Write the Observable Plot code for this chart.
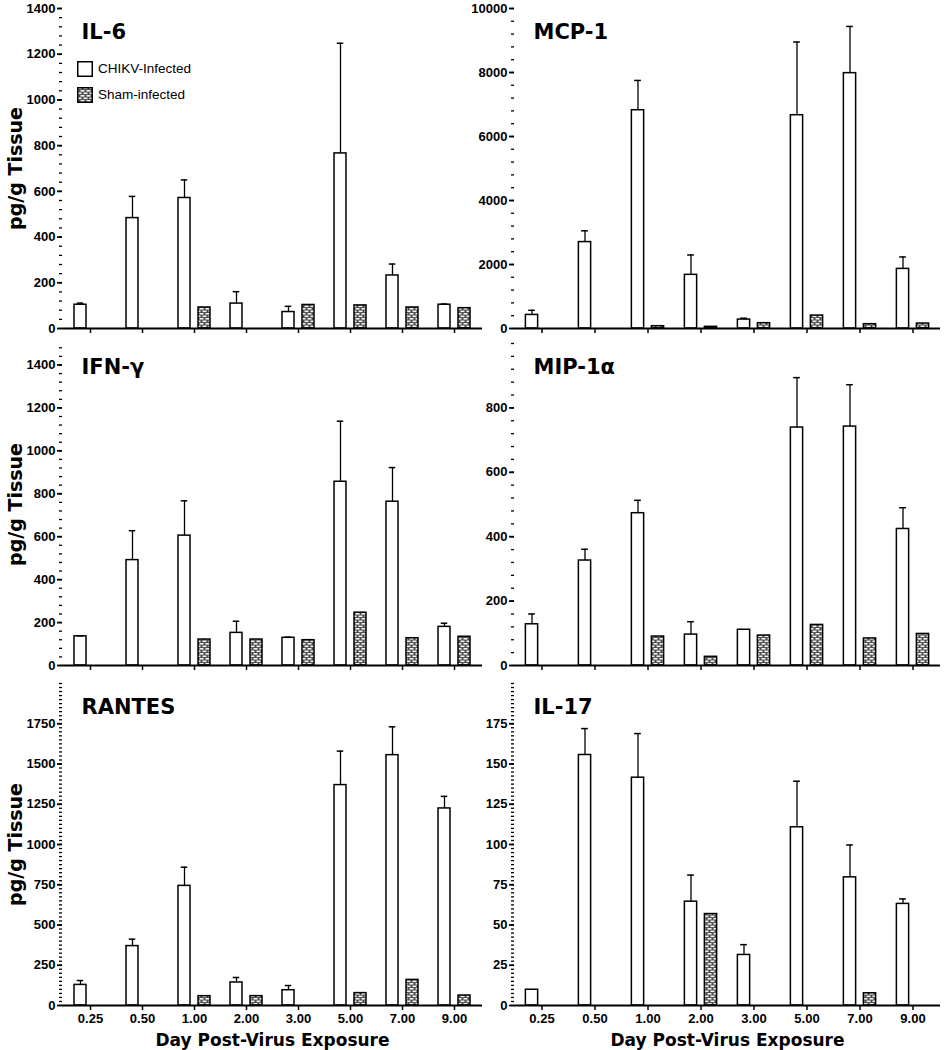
<!DOCTYPE html>
<html>
<head>
<meta charset="utf-8">
<script src="https://cdn.jsdelivr.net/npm/d3@7"></script>
<script src="https://cdn.jsdelivr.net/npm/@observablehq/plot@0.6"></script>
<style>
  body { margin: 0; background: #fff; }
  #wrap { position: relative; width: 944px; height: 1050px; overflow: hidden; background: #fff; }
  .panel { position: absolute; }
  .panel svg { display: block; max-width: none; }
  #legend { position: absolute; left: 77px; top: 61px; font: 13.5px "Liberation Sans", Arial, sans-serif; color: #000; }
  #legend .row { display: flex; align-items: center; height: 15px; margin-bottom: 11px; }
  #legend svg { margin-right: 5px; }
</style>
</head>
<body>
<svg style="position:absolute;width:0;height:0">
  <defs>
    <pattern id="brick" width="6" height="5" patternUnits="userSpaceOnUse">
      <rect width="6" height="5" fill="#4a4a4a"/>
      <rect x="0.5" y="0.5" width="4" height="1.6" fill="#f2f2f2"/>
      <rect x="3.5" y="3" width="4" height="1.6" fill="#f2f2f2"/>
      <rect x="-2.5" y="3" width="4" height="1.6" fill="#f2f2f2"/>
    </pattern>
  </defs>
</svg>
<div id="wrap">
  <div id="legend">
    <div class="row"><svg width="16" height="16"><rect x="0.75" y="0.75" width="14.5" height="14.5" fill="#fff" stroke="#000" stroke-width="1.5"/></svg><span>CHIKV-Infected</span></div>
    <div class="row"><svg width="16" height="16"><rect x="0.75" y="0.75" width="14.5" height="14.5" fill="url(#brick)" stroke="#000" stroke-width="1.5"/></svg><span>Sham-infected</span></div>
  </div>
</div>
<script>
// ---- Data ----
const days = ["0.25", "0.50", "1.00", "2.00", "3.00", "5.00", "7.00", "9.00"];
const seriesNames = ["CHIKV-Infected", "Sham-infected"];

const il6Chikv    = [104, 483, 571, 109, 72, 766, 232, 104];
const il6ChikvSem = [7, 95, 79, 52, 25, 482, 50, 3];
const il6Sham     = [null, null, 92, null, 103, 101, 92, 89];

const mcp1Chikv    = [424, 2701, 6821, 1677, 279, 6665, 7980, 1863];
const mcp1ChikvSem = [145, 352, 931, 621, 42, 2288, 1459, 373];
const mcp1Sham     = [null, null, 72, 52, 166, 404, 135, 155];

const ifngChikv    = [136, 491, 605, 152, 129, 856, 763, 180];
const ifngChikvSem = [2, 137, 162, 54, 3, 282, 159, 17];
const ifngSham     = [null, null, 121, 121, 118, 246, 127, 134];

const mip1aChikv    = [128, 326, 473, 96, 111, 739, 742, 424];
const mip1aChikvSem = [32, 35, 40, 40, 0, 155, 130, 66];
const mip1aSham     = [null, null, 90, 27, 93, 126, 84, 98];

const rantesChikv    = [128, 369, 743, 143, 95, 1369, 1555, 1224];
const rantesChikvSem = [27, 43, 116, 31, 29, 211, 176, 75];
const rantesSham     = [null, null, 58, 58, null, 77, 159, 62];

const il17Chikv    = [9.8, 155.6, 141.5, 64.5, 31.4, 110.7, 79.6, 63.1];
const il17ChikvSem = [0, 16.4, 27.4, 16.5, 6.4, 28.6, 20.1, 3.1];
const il17Sham     = [null, null, null, 56.8, null, null, 7.6, null];

// tick labels
const il6Ticks    = [0, 200, 400, 600, 800, 1000, 1200, 1400];
const mcp1Ticks   = [0, 2000, 4000, 6000, 8000, 10000];
const ifngTicks   = [0, 200, 400, 600, 800, 1000, 1200, 1400];
const mip1aTicks  = [0, 200, 400, 600, 800];
const rantesTicks = [0, 250, 500, 750, 1000, 1250, 1500, 1750];
const il17Ticks   = [0, 25, 50, 75, 100, 125, 150, 175];

const yLabel = "pg/g Tissue";
const xLabel = "Day Post-Virus Exposure";

// ---- Panels ----
const panels = [
  {title: "IL-6",    chikv: il6Chikv,    sem: il6ChikvSem,    sham: il6Sham,    yMax: 1400,  ticks: il6Ticks,    minor: 40,  col: 0, row: 0},
  {title: "MCP-1",   chikv: mcp1Chikv,   sem: mcp1ChikvSem,   sham: mcp1Sham,   yMax: 10000, ticks: mcp1Ticks,   minor: 400, col: 1, row: 0},
  {title: "IFN-γ",   chikv: ifngChikv,   sem: ifngChikvSem,   sham: ifngSham,   yMax: 1500,  ticks: ifngTicks,   minor: 40,  col: 0, row: 1},
  {title: "MIP-1α",  chikv: mip1aChikv,  sem: mip1aChikvSem,  sham: mip1aSham,  yMax: 1000,  ticks: mip1aTicks,  minor: 40,  col: 1, row: 1},
  {title: "RANTES",  chikv: rantesChikv, sem: rantesChikvSem, sham: rantesSham, yMax: 2000,  ticks: rantesTicks, minor: 25,  col: 0, row: 2},
  {title: "IL-17",   chikv: il17Chikv,   sem: il17ChikvSem,   sham: il17Sham,   yMax: 200,   ticks: il17Ticks,   minor: 2.5, col: 1, row: 2}
];

const colGeom = [
  {left: 0,   width: 482, marginLeft: 62, marginRight: 0},
  {left: 472, width: 472, marginLeft: 42, marginRight: 4}
];
const rowGeom = [
  {top: 0,   height: 340, marginTop: 8, marginBottom: 12},
  {top: 335, height: 340, marginTop: 8, marginBottom: 10},
  {top: 675, height: 375, marginTop: 8, marginBottom: 45}
];

const wrap = document.getElementById("wrap");
const titleFont = "'DejaVu Sans', Verdana, sans-serif";

for (const p of panels) {
  const cg = colGeom[p.col], rg = rowGeom[p.row];
  const bottomRow = p.row === 2;
  const table = days.map((d, i) => ({day: d, chikv: p.chikv[i], sem: p.sem[i], sham: p.sham[i]}));
  const shamRows = table.filter(d => d.sham != null);
  const errRows = table.filter(d => d.sem > 0);
  const bw = (cg.width - cg.marginLeft - cg.marginRight) / days.length;
  const barW = 12.5, capW = 7, off = 10;
  const barInset = (bw - barW) / 2, capInset = (bw - capW) / 2;
  const minorTicks = d3.range(0, p.yMax + p.minor / 2, p.minor);

  const marks = [
    Plot.barY(shamRows, {x: "day", y: "sham", dx: off, insetLeft: barInset, insetRight: barInset,
      fill: "url(#brick)", stroke: "#000", strokeWidth: 1.5}),
    Plot.barY(table, {x: "day", y: "chikv", dx: -off, insetLeft: barInset, insetRight: barInset,
      fill: "#fff", stroke: "#000", strokeWidth: 1.5}),
    Plot.ruleX(errRows, {x: "day", y1: "chikv", y2: d => d.chikv + d.sem, dx: -off, stroke: "#000", strokeWidth: 1.3}),
    Plot.tickY(errRows, {x: "day", y: d => d.chikv + d.sem, dx: -off, insetLeft: capInset, insetRight: capInset, stroke: "#000", strokeWidth: 1.5}),
    Plot.axisY(minorTicks, {tickSize: 3, tickFormat: () => "", strokeWidth: 1.3}),
    Plot.axisY(p.ticks, {tickSize: 5, tickPadding: 2, line: true, strokeWidth: 1.8, tickFormat: d => String(d)}),
    Plot.axisX({tickSize: 5, tickPadding: 3, strokeWidth: 1.5,
      tickFormat: bottomRow ? (d => d) : (() => "")}),
    Plot.ruleY([0], {stroke: "#000", strokeWidth: 1.8}),
    Plot.text([p.title], {frameAnchor: "top-left", dx: 19, dy: 30, lineAnchor: "bottom", textAnchor: "start",
      fontSize: 21, fontWeight: "bold", fontFamily: titleFont, fill: "#000"})
  ];
  if (p.col === 0) {
    marks.push(Plot.text([yLabel], {frameAnchor: "left", dx: -47, rotate: -90, textAnchor: "middle", lineAnchor: "middle",
      fontSize: 19, fontWeight: "bold", fontFamily: titleFont, fill: "#000"}));
  }
  if (bottomRow) {
    marks.push(Plot.text([xLabel], {frameAnchor: "bottom", dy: 40, lineAnchor: "bottom", textAnchor: "middle",
      fontSize: 17, fontWeight: "bold", fontFamily: titleFont, fill: "#000"}));
  }

  const chart = Plot.plot({
    width: cg.width, height: rg.height,
    marginLeft: cg.marginLeft, marginRight: cg.marginRight,
    marginTop: rg.marginTop, marginBottom: rg.marginBottom,
    style: {background: "transparent", overflow: "visible", color: "#000",
      fontFamily: "'Liberation Sans', Arial, sans-serif", fontSize: "13px", fontWeight: "bold"},
    x: {type: "band", domain: days, padding: 0, label: null},
    y: {domain: [0, p.yMax], label: null},
    marks
  });
  const div = document.createElement("div");
  div.className = "panel";
  div.style.left = cg.left + "px";
  div.style.top = rg.top + "px";
  div.style.width = cg.width + "px";
  div.style.height = rg.height + "px";
  div.appendChild(chart);
  wrap.insertBefore(div, document.getElementById("legend"));
}
</script>
</body>
</html>
